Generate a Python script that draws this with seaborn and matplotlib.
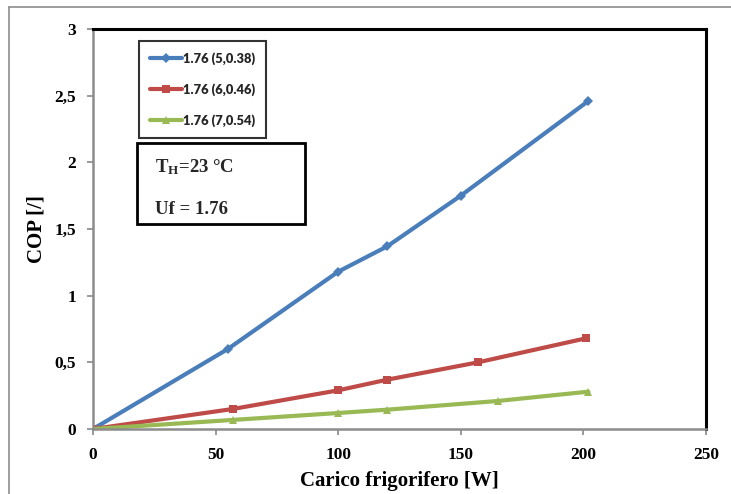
import matplotlib
matplotlib.use("Agg")
import matplotlib.pyplot as plt
import seaborn as sns
import pandas as pd
from matplotlib.patches import Rectangle
from matplotlib.lines import Line2D

# ---- data ----
blue_x = [0, 55, 100, 120, 150, 202]
blue_y = [0, 0.60, 1.18, 1.37, 1.75, 2.46]
red_x = [0, 57, 100, 120, 157, 201]
red_y = [0, 0.15, 0.29, 0.37, 0.50, 0.68]
green_x = [0, 57, 100, 120, 165, 202]
green_y = [0, 0.068, 0.12, 0.145, 0.21, 0.28]
series_names = ["1.76 (5,0.38)", "1.76 (6,0.46)", "1.76 (7,0.54)"]
x_ticks = [0, 50, 100, 150, 200, 250]
y_ticks = [0, 0.5, 1, 1.5, 2, 2.5, 3]
y_tick_labels = ["0", "0,5", "1", "1,5", "2", "2,5", "3"]
colors = ["#4A7EBB", "#BE4B48", "#98B954"]

frames = []
for name, xs, ys in zip(series_names, [blue_x, red_x, green_x], [blue_y, red_y, green_y]):
    frames.append(pd.DataFrame({"x": xs, "y": ys, "series": name}))
df = pd.concat(frames, ignore_index=True)

sns.set_theme(style="white")
plt.rcParams["font.family"] = ["Liberation Serif", "DejaVu Serif"]
plt.rcParams["mathtext.fontset"] = "custom"
plt.rcParams["mathtext.rm"] = "Liberation Serif:bold"
plt.rcParams["mathtext.bf"] = "Liberation Serif:bold"
plt.rcParams["mathtext.it"] = "Liberation Serif:bold"

fig = plt.figure(figsize=(7.31, 4.94), dpi=100)
W, H = 731, 494
ax = fig.add_axes([93 / W, (H - 429) / H, (706 - 93) / W, (429 - 29) / H])

sns.lineplot(data=df, x="x", y="y", hue="series", style="series",
             hue_order=series_names, style_order=series_names,
             palette=colors, markers=["D", "s", "^"], dashes=False,
             sort=False, linewidth=3.0, markersize=5.5, markeredgewidth=0,
             ax=ax, legend=False)

ax.set_xlim(0, 250)
ax.set_ylim(0, 3)
ax.set_xticks(x_ticks)
ax.set_yticks(y_ticks)
ax.set_yticklabels(y_tick_labels)
ax.set_xticklabels([str(t) for t in x_ticks])
for lbl in ax.get_xticklabels() + ax.get_yticklabels():
    lbl.set_fontweight("bold")
    lbl.set_fontsize(12.5)
    lbl.set_color("black")
ax.tick_params(axis="both", which="major", direction="out", length=4, width=1.2,
               color="#888888", bottom=True, left=True)
ax.tick_params(axis="y", pad=8)
ax.tick_params(axis="x", pad=9)

for side in ["left", "bottom"]:
    ax.spines[side].set_color("#8c8c8c")
    ax.spines[side].set_linewidth(1.8)
for side in ["top", "right"]:
    ax.spines[side].set_color("black")
    ax.spines[side].set_linewidth(2.2)

ax.set_xlabel("Carico frigorifero [W]", fontsize=15, fontweight="bold", labelpad=6,
              color="black")
ax.set_ylabel("COP [/]", fontsize=15, fontweight="bold", labelpad=6, color="black")

# legend
handles = [Line2D([0], [0], color=c, lw=3.0, marker=m, markersize=5.5, markeredgewidth=0)
           for c, m in zip(colors, ["D", "s", "^"])]
leg = ax.legend(handles, series_names, loc="upper left",
                bbox_to_anchor=((139 - 93) / 613, (429 - 41) / 400),
                prop={"family": "Lato", "weight": "heavy", "size": 9.3},
                frameon=True, fancybox=False, edgecolor="black",
                handlelength=2.45, handletextpad=0.1, labelspacing=1.43,
                borderpad=0.85, borderaxespad=0)
leg.get_frame().set_linewidth(1.5)

# text box
fig.add_artist(Rectangle((137 / W, (H - 224) / H), (305 - 137) / W, (224 - 143) / H,
                         transform=fig.transFigure, fill=False, edgecolor="black", lw=2.0))
fig.text(155 / W, (H - 167) / H, r"T$_{\mathrm{H}}$=23 °C", fontsize=13.5, fontweight="bold",
         va="center", ha="left")
fig.text(155 / W, (H - 209) / H, "Uf = 1.76", fontsize=13.5, fontweight="bold",
         va="center", ha="left")

# outer chart frame (left and top edges)
fig.add_artist(Line2D([9 / W, 9 / W], [0, 1 - 7 / H], transform=fig.transFigure,
                      color="#8c8c8c", lw=1.2))
fig.add_artist(Line2D([9 / W, 1], [1 - 7 / H, 1 - 7 / H], transform=fig.transFigure,
                      color="#8c8c8c", lw=1.2))

fig.savefig("out.png", dpi=100)
